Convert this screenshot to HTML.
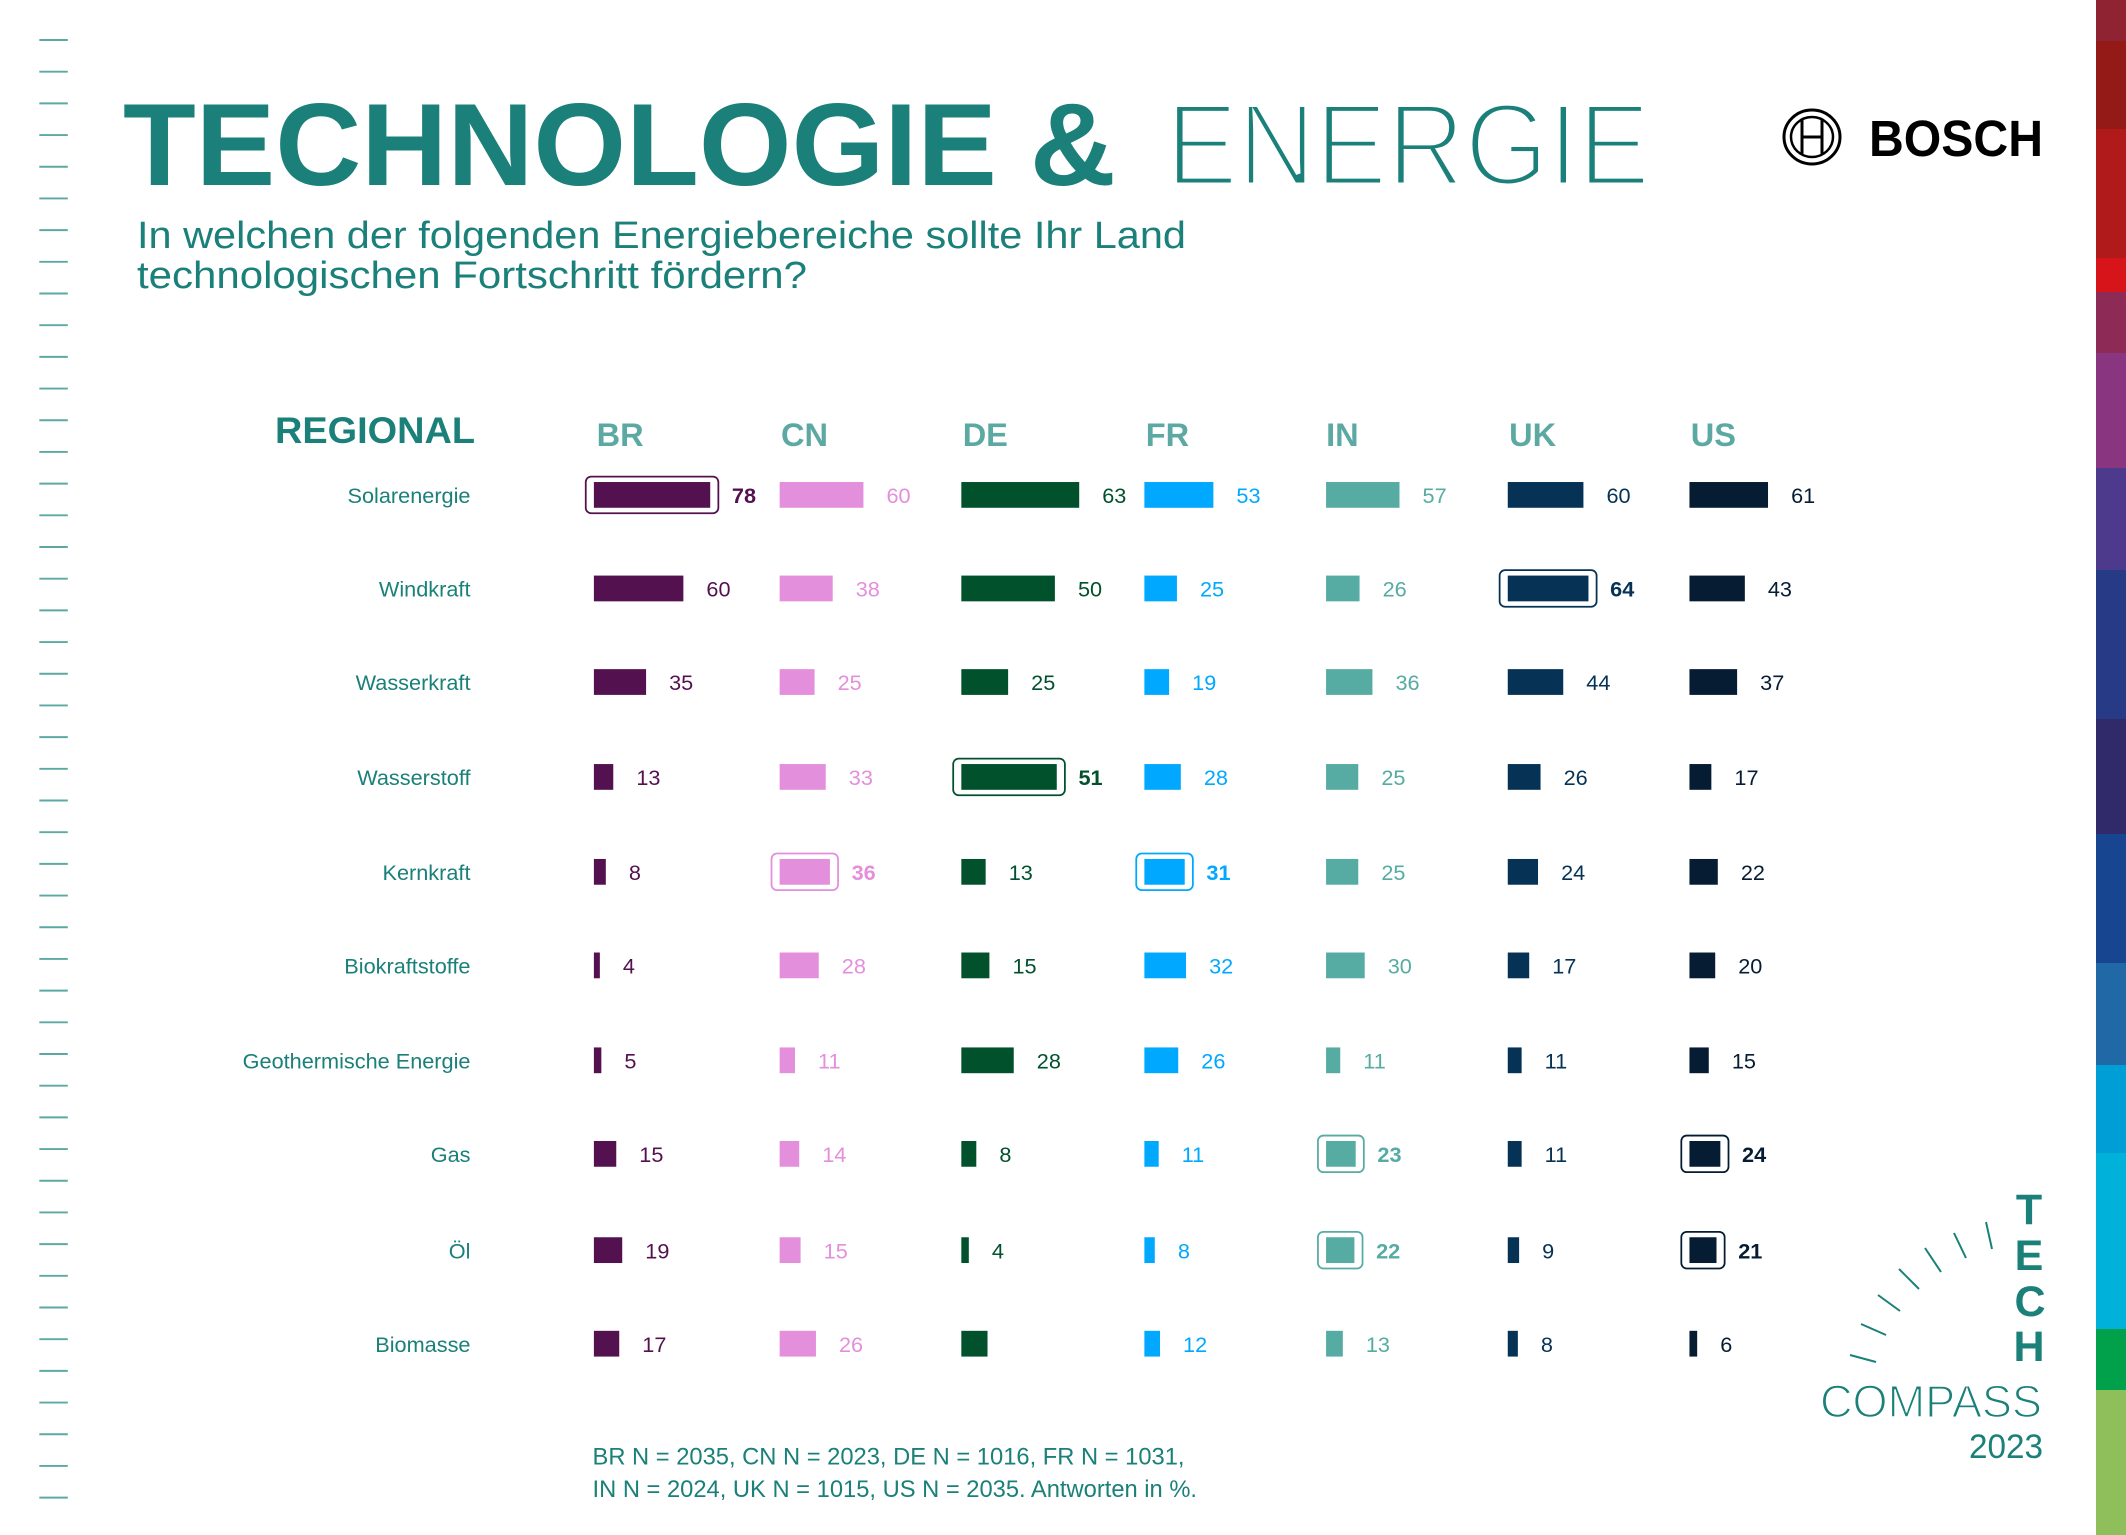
<!DOCTYPE html>
<html><head><meta charset="utf-8"><style>
html,body{margin:0;padding:0;background:#fff}
svg{display:block}
text{font-family:"Liberation Sans",sans-serif}
</style></head><body>
<svg width="2126" height="1535" viewBox="0 0 2126 1535" xmlns="http://www.w3.org/2000/svg">
<rect width="2126" height="1535" fill="#fff"/>
<text x="123" y="185" font-size="117" font-weight="bold" fill="#1a8079" textLength="993" lengthAdjust="spacingAndGlyphs">TECHNOLOGIE &amp;</text>
<text x="1166" y="185" font-size="117" fill="#1a8079" stroke="#fff" stroke-width="5" textLength="484" lengthAdjust="spacingAndGlyphs">ENERGIE</text>
<text x="137" y="248" font-size="38" fill="#1a8079" textLength="1049" lengthAdjust="spacingAndGlyphs">In welchen der folgenden Energiebereiche sollte Ihr Land</text>
<text x="137" y="288" font-size="38" fill="#1a8079" textLength="670" lengthAdjust="spacingAndGlyphs">technologischen Fortschritt fördern?</text>
<text x="275" y="443" font-size="37" font-weight="bold" fill="#1a8079" textLength="200" lengthAdjust="spacingAndGlyphs">REGIONAL</text>
<g fill="none" stroke="#000">
<ellipse cx="1812" cy="137" rx="28" ry="27" stroke-width="3"/>
<ellipse cx="1812" cy="137" rx="21" ry="20" stroke-width="2.5"/>
<line x1="1802" y1="120" x2="1802" y2="154" stroke-width="3"/>
<line x1="1822" y1="120" x2="1822" y2="154" stroke-width="3"/>
<line x1="1802" y1="137" x2="1822" y2="137" stroke-width="3"/>
</g>
<text x="1869" y="156" font-size="51" font-weight="bold" fill="#000" textLength="174" lengthAdjust="spacingAndGlyphs">BOSCH</text>
<g stroke="#1a8079" stroke-width="2">
<line x1="1850" y1="1355" x2="1876" y2="1362"/>
<line x1="1861" y1="1324" x2="1886" y2="1335"/>
<line x1="1878" y1="1295" x2="1900" y2="1311"/>
<line x1="1899" y1="1269" x2="1919" y2="1289"/>
<line x1="1925" y1="1248" x2="1941" y2="1272"/>
<line x1="1954" y1="1233" x2="1966" y2="1258"/>
<line x1="1986" y1="1222" x2="1992" y2="1249"/>
</g>
<g font-size="43" font-weight="bold" fill="#1a8079" text-anchor="middle">
<text x="2029" y="1224">T</text><text x="2029" y="1270">E</text><text x="2030" y="1316">C</text><text x="2029" y="1361">H</text>
</g>
<text x="1820" y="1417" font-size="45" fill="#1a8079" stroke="#fff" stroke-width="1.5" textLength="222" lengthAdjust="spacingAndGlyphs">COMPASS</text>
<text x="1969" y="1458" font-size="34" fill="#1a8079" textLength="74" lengthAdjust="spacingAndGlyphs">2023</text>
<g>
<rect x="2096" y="0" width="30" height="41" fill="#8f2331"/>
<rect x="2096" y="41" width="30" height="88" fill="#941a17"/>
<rect x="2096" y="129" width="30" height="129" fill="#b01a1a"/>
<rect x="2096" y="258" width="30" height="34" fill="#d7141a"/>
<rect x="2096" y="292" width="30" height="61" fill="#8e2a56"/>
<rect x="2096" y="353" width="30" height="115" fill="#893580"/>
<rect x="2096" y="468" width="30" height="102" fill="#4d3a8c"/>
<rect x="2096" y="570" width="30" height="149" fill="#263a85"/>
<rect x="2096" y="719" width="30" height="115" fill="#302a6a"/>
<rect x="2096" y="834" width="30" height="129" fill="#17458f"/>
<rect x="2096" y="963" width="30" height="102" fill="#2169a6"/>
<rect x="2096" y="1065" width="30" height="88" fill="#009ed6"/>
<rect x="2096" y="1153" width="30" height="176" fill="#00b2d9"/>
<rect x="2096" y="1329" width="30" height="61" fill="#00a14a"/>
<rect x="2096" y="1390" width="30" height="145" fill="#8fbf5a"/>
</g>
<g transform="scale(1.3559)">
<g id="ticks" stroke="#5ba9a2" stroke-width="1.4"></g>
<g font-size="24" font-weight="bold" fill="#5ba9a2">
<text x="440" y="329">BR</text><text x="576" y="329">CN</text><text x="710" y="329">DE</text><text x="845" y="329">FR</text><text x="978" y="329">IN</text><text x="1113" y="329">UK</text><text x="1247" y="329">US</text>
</g>
<g id="chart"></g>
<text x="437" y="1080" font-size="17.5" fill="#1a8079">BR N = 2035, CN N = 2023, DE N = 1016, FR N = 1031,</text>
<text x="437" y="1104" font-size="17.5" fill="#1a8079">IN N = 2024, UK N = 1015, US N = 2035. Antworten in %.</text>
</g>
</svg>
<script>
var NS="http://www.w3.org/2000/svg";
function el(p,t,a,txt){var e=document.createElementNS(NS,t);for(var k in a)e.setAttribute(k,a[k]);if(txt!=null)e.textContent=txt;p.appendChild(e);return e;}
var tk=document.getElementById("ticks");
for(var i=0;i<47;i++){var y=29.5+i*23.37;el(tk,"line",{x1:29,y1:y,x2:50,y2:y});}
var ch=document.getElementById("chart");
var rows=["Solarenergie","Windkraft","Wasserkraft","Wasserstoff","Kernkraft","Biokraftstoffe","Geothermische Energie","Gas","Öl","Biomasse"];
var ys=[365,434,503,573,643,712,782,851,922,991];
var cols=[
{x:438,s:1.1,c:"#54114f",t:"#54114f",d:[78,60,35,13,8,4,5,15,19,17],h:[0]},
{x:575,s:1.03,c:"#e38fdc",t:"#e38fdc",d:[60,38,25,33,36,28,11,14,15,26],h:[4]},
{x:709,s:1.38,c:"#00512c",t:"#00512c",d:[63,50,25,51,13,15,28,8,4,14],h:[3]},
{x:844,s:0.96,c:"#00a8ff",t:"#00a8ff",d:[53,25,19,28,31,32,26,11,8,12],h:[4]},
{x:978,s:0.95,c:"#56aba3",t:"#56aba3",d:[57,26,36,25,25,30,11,23,22,13],h:[7,8]},
{x:1112,s:0.93,c:"#053255",t:"#053255",d:[60,64,44,26,24,17,11,11,9,8],h:[1]},
{x:1246,s:0.95,c:"#051c33",t:"#051c33",d:[61,43,37,17,22,20,15,24,21,6],h:[7,8]}
];
rows.forEach(function(r,i){el(ch,"text",{x:347,y:ys[i]+6,"font-size":16,fill:"#1a8079","text-anchor":"end"},r);});
cols.forEach(function(c,ci){
 c.d.forEach(function(v,i){
  var w=Math.max(4,v*c.s),y=ys[i],hl=c.h.indexOf(i)>=0;
  el(ch,"rect",{x:c.x,y:y-9.5,width:w,height:19,fill:c.c});
  if(hl){el(ch,"rect",{x:c.x-6,y:y-13.5,width:w+12,height:27,rx:4,fill:"none",stroke:c.c,"stroke-width":1.3});}
  if(ci==2&&i==9)return;
  el(ch,"text",{x:c.x+w+(hl?16:17),y:y+6,"font-size":16,fill:c.t,"font-weight":hl?"bold":"normal"},String(v));
 });
});
</script>
</body></html>
